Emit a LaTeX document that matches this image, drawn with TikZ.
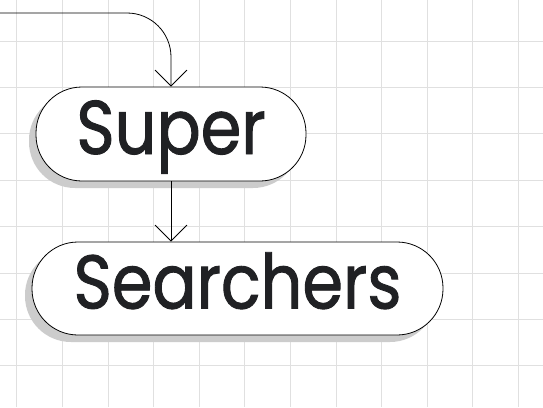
\documentclass[tikz,border=0pt]{standalone}
\usepackage{fontspec}
\setmainfont[FakeStretch=0.86,FakeBold=1.2]{Poppins}
\usetikzlibrary{arrows.meta,positioning,shadows}
\definecolor{ink}{HTML}{202124}

\begin{document}
\begin{tikzpicture}[x=1pt,y=-1pt,>={Straight Barb[length=16pt,width=32pt]},
 pill/.style={draw,line width=.8pt,rounded corners=46pt,fill=white,
  drop shadow={shadow xshift=-7pt,shadow yshift=-7pt,fill=black!20,opacity=1},
  font=\fontsize{76}{82}\selectfont,text=ink,inner sep=0pt,
  text height=52pt,text depth=12pt},
 link/.style={->,line width=.8pt}]
\useasboundingbox (0,0) rectangle (543,407);
\fill[white] (0,0) rectangle (543,407);
\foreach \x in {0,...,11} \draw[black!12,line width=.8pt] (16.7+45.6*\x,0) -- (16.7+45.6*\x,407);
\foreach \y in {0,...,7} \draw[black!12,line width=.8pt] (0,41+46.4*\y) -- (543,41+46.4*\y);
\node[pill,minimum width=270pt,minimum height=94pt] (super) at (171,134) {Super};
\node[pill,minimum width=411pt,minimum height=93pt] (searchers) at (237.5,288.5) {Searchers};
\coordinate (in) at (0,13);
\draw[link,rounded corners=44pt] (in) -| (super.north);
\draw[link] (super.south) -- (super.south |- searchers.north);
\end{tikzpicture}
\end{document}
